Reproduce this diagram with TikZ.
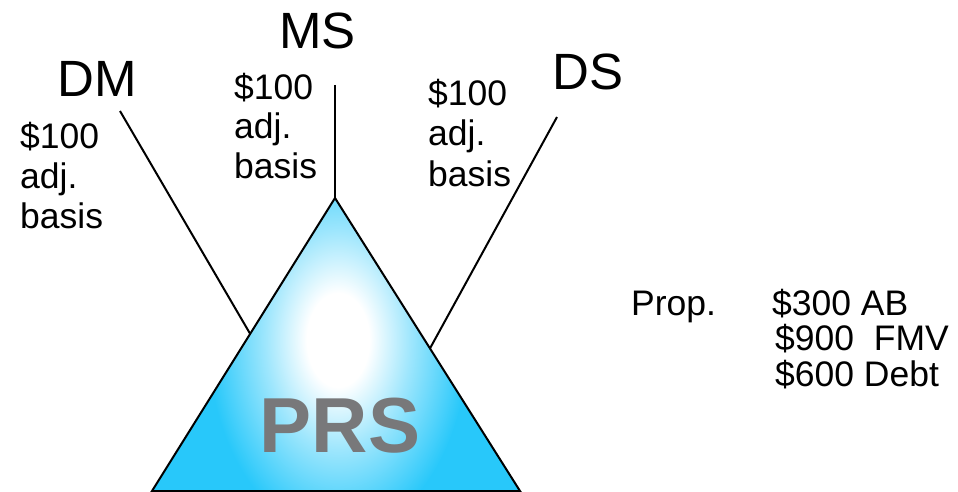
\documentclass[tikz,border=0pt]{standalone}
\usepackage{fontspec}
\setmainfont{Liberation Sans}
\definecolor{prscyan}{RGB}{40,200,250}
\definecolor{prsgray}{RGB}{120,120,122}
\colorlet{prsmid}{prscyan!45!white}
\pgfdeclareradialshading{prsglow}{\pgfpointorigin}{color(0bp)=(white); color(6bp)=(white); color(14bp)=(prsmid); color(25bp)=(prscyan); color(50bp)=(prscyan)}
\tikzset{
  head/.style={anchor=base west, inner sep=0pt, font=\fontsize{51}{60}\selectfont},
  basislab/.style={anchor=base west, inner sep=0pt, font=\fontsize{35.5}{40}\selectfont},
  proplab/.style={anchor=base west, inner sep=0pt, font=\fontsize{35.5}{40}\selectfont},
  link/.style={line width=2pt, black},
  tri/.style={line width=2pt, black, line join=miter}
}
\begin{document}
\begin{tikzpicture}[x=1pt, y=-1pt]
\useasboundingbox (0,0) rectangle (958,492);
% triangle corners
\coordinate (apex) at (335,198);
\coordinate (bl) at (152,491);
\coordinate (br) at (520,491);
% connector ends
\coordinate (dmtop) at (120,111);
\coordinate (dmend) at (252,337);
\coordinate (mstop) at (335,85);
\coordinate (dstop) at (557,117);
\coordinate (dsend) at (428,352);
% connectors
\draw[link] (dmtop) -- (dmend);
\draw[link] (mstop) -- (apex);
\draw[link] (dstop) -- (dsend);
% triangle
\fill[prscyan] (apex) -- (bl) -- (br) -- cycle;
\begin{scope}
  \clip (apex) -- (bl) -- (br) -- cycle;
  \shade[shading=prsglow] (338,340) ellipse (130 and 195);
\end{scope}
\draw[tri] (apex) -- (bl) -- (br) -- cycle;
\node[anchor=base, inner sep=0pt, text=prsgray, font=\fontsize{78}{90}\selectfont\bfseries] (prs) at (340,452) {PRS};
% headers
\node[head] (dm) at (57,97) {DM};
\node[head] (ms) at (279,49) {MS};
\node[head] (ds) at (552,90) {DS};
% basis labels
\node[basislab] (dma) at (20,149) {\$100};
\node[basislab] (dmb) at (20,188) {adj.};
\node[basislab] (dmc) at (20,228) {basis};
\node[basislab] (msa) at (234,100) {\$100};
\node[basislab] (msb) at (234,139) {adj.};
\node[basislab] (msc) at (234,178) {basis};
\node[basislab] (dsa) at (428,106) {\$100};
\node[basislab] (dsb) at (428,146) {adj.};
\node[basislab] (dsc) at (428,186) {basis};
% property
\node[proplab] (prop) at (631,315) {Prop.};
\node[proplab] (ab) at (772,315) {\$300 AB};
\node[proplab] (fmv) at (775,350) {\$900\ \ FMV};
\node[proplab] (debt) at (775,386) {\$600 Debt};
\end{tikzpicture}
\end{document}
